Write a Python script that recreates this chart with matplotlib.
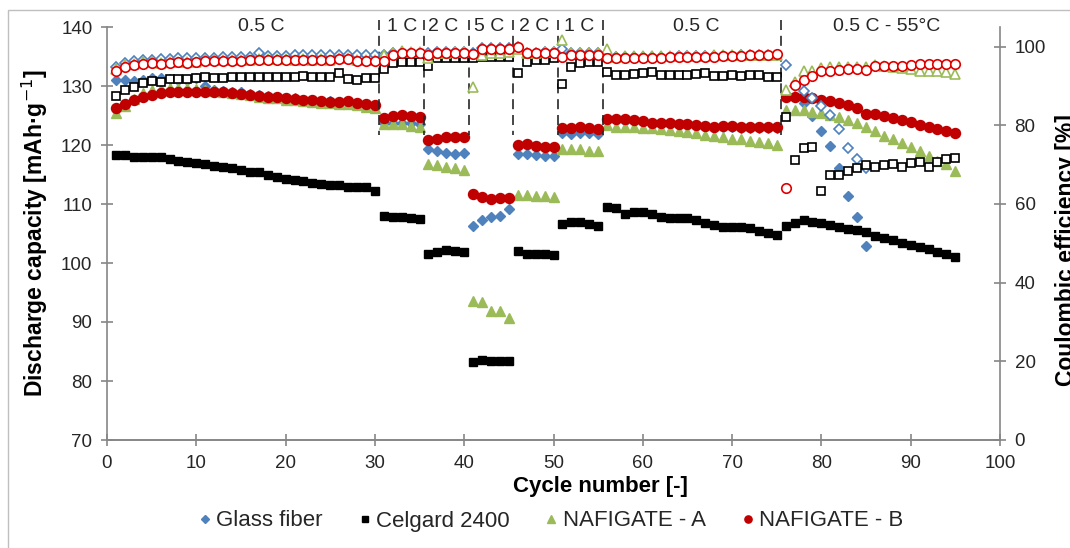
import numpy as np
import matplotlib
matplotlib.use("Agg")
import matplotlib.pyplot as plt
from matplotlib.lines import Line2D
from matplotlib.patches import Rectangle

plt.rcParams['font.family'] = ['Liberation Sans', 'DejaVu Sans']

nan = np.nan
cycles = list(range(1, 96))

# ---- Discharge capacity [mAh/g] (left axis) ----
glass_dc = [131.0, 131.0, 130.9, 131.0, 131.3, 131.4, 131.2, 131.1, 131.0, 131.3,
            130.0, 129.3, 129.2, 129.0, 128.9, 128.7, 128.5, 128.3, 128.2, 128.0,
            127.9, 127.7, 127.6, 127.5, 127.4, 127.3, 127.3, 127.2, 126.9, 126.7,
            123.8, 123.8, 123.8, 123.7, 123.6,
            119.4, 119.0, 118.7, 118.5, 118.6,
            106.3, 107.3, 107.85, 108.0, 109.1,
            118.4, 118.4, 118.3, 118.2, 118.1,
            122.0, 121.9, 122.0, 122.0, 121.9,
            124.2, 124.2, 124.15, 124.05, 123.95, 123.6, 123.6, 123.5, 123.4, 123.35,
            123.2, 123.05, 122.9, 123.05, 123.05, 122.9, 122.9, 122.8, 122.8, 122.8,
            128.6, 128.2, 127.1, 124.9, 122.4, 119.8, 116.05, 111.35, 107.75, 102.9,
            nan, nan, nan, nan, nan, nan, nan, nan, nan, nan]
celgard_dc = [118.3, 118.25, 118.0, 118.0, 118.0, 118.0, 117.6, 117.3, 117.1, 116.9,
              116.7, 116.5, 116.3, 116.05, 115.8, 115.5, 115.35, 114.95, 114.65, 114.3,
              114.1, 113.9, 113.6, 113.4, 113.3, 113.2, 112.9, 112.85, 112.8, 112.2,
              108.0, 107.8, 107.8, 107.6, 107.4,
              101.6, 101.9, 102.2, 102.0, 101.9,
              83.2, 83.6, 83.4, 83.4, 83.4,
              102.1, 101.6, 101.6, 101.5, 101.35,
              106.6, 107.0, 107.0, 106.55, 106.3,
              109.45, 109.3, 108.3, 108.6, 108.65, 108.3, 107.85, 107.6, 107.7, 107.7,
              107.35, 106.85, 106.45, 106.15, 106.1, 106.1, 105.9, 105.5, 105.1, 104.75,
              106.3, 106.8, 107.3, 107.0, 106.8, 106.4, 106.05, 105.8, 105.6, 105.2,
              104.6, 104.2, 103.9, 103.45, 103.05, 102.65, 102.3, 101.9, 101.5, 101.1]
nafA_dc = [125.4, 126.6, 127.8, 128.8, 129.3, 129.5, 129.6, 129.6, 129.6, 129.5,
           129.3, 129.2, 129.0, 128.8, 128.6, 128.4, 128.2, 128.0, 127.9, 127.7,
           127.55, 127.4, 127.3, 127.2, 127.1, 127.0, 126.9, 126.7, 126.5, 126.3,
           123.55, 123.55, 123.5, 123.2, 123.0,
           116.8, 116.6, 116.3, 116.05, 115.75,
           93.6, 93.45, 91.9, 91.9, 90.6,
           111.6, 111.6, 111.35, 111.4, 111.25,
           119.3, 119.3, 119.4, 118.9, 118.9,
           123.4, 123.1, 123.1, 123.0, 122.95, 122.8, 122.7, 122.55, 122.4, 122.15,
           122.0, 121.7, 121.5, 121.3, 121.1, 120.95, 120.7, 120.55, 120.3, 120.0,
           125.9, 126.0, 126.0, 125.65, 125.4, 125.1, 124.7, 124.25, 123.7, 123.0,
           122.4, 121.6, 121.0, 120.3, 119.6, 118.9, 118.2, 117.35, 116.8, 115.65]
nafB_dc = [126.2, 126.95, 127.7, 128.2, 128.5, 128.75, 128.9, 128.95, 128.95, 128.95,
           128.9, 129.05, 128.95, 128.75, 128.65, 128.5, 128.3, 128.2, 128.1, 127.95,
           127.8, 127.7, 127.6, 127.5, 127.35, 127.35, 127.5, 127.2, 126.95, 126.7,
           124.5, 125.0, 125.1, 125.0, 124.7,
           120.85, 121.1, 121.3, 121.3, 121.3,
           111.7, 111.25, 110.85, 111.0, 111.1,
           120.0, 120.1, 119.9, 119.7, 119.7,
           122.8, 122.95, 123.0, 122.8, 122.7,
           124.4, 124.4, 124.35, 124.25, 124.15, 123.8, 123.8, 123.7, 123.6, 123.55,
           123.4, 123.25, 123.1, 123.25, 123.25, 123.1, 123.1, 123.0, 123.0, 123.0,
           128.2, 128.2, 128.1, 127.9, 127.7, 127.45, 127.2, 126.7, 126.2, 125.2,
           125.2, 124.9, 124.6, 124.25, 123.85, 123.4, 123.0, 122.7, 122.4, 122.0]

# ---- Coulombic efficiency [%] (right axis) ----
glass_ce = [94.9, 95.8, 96.3, 96.6, 96.6, 96.8, 96.8, 97.0, 97.0, 97.0,
            97.2, 97.2, 97.3, 97.3, 97.5, 97.5, 98.3, 97.7, 97.7, 97.7,
            97.8, 97.8, 97.8, 97.9, 97.9, 97.9, 97.9, 97.9, 97.9, 97.9,
            98.0, 98.3, 98.5, 98.5, 98.5,
            98.3, 98.6, 98.6, 98.6, 98.6,
            98.5, 99.6, 99.6, 99.6, 99.6,
            100.0, 98.5, 98.5, 98.6, 98.6,
            99.3, 98.3, 98.3, 98.3, 98.3,
            97.5, 97.3, 97.4, 97.4, 97.5, 97.5, 97.5, 97.5, 97.6, 97.6,
            97.6, 97.6, 97.7, 97.7, 97.7, 97.8, 97.8, 97.9, 98.0, 98.0,
            95.3, 90.1, 88.7, 87.0, 84.9, 82.6, 79.0, 74.3, 71.4, 69.1,
            nan, nan, nan, nan, nan, nan, nan, nan, nan, nan]
celgard_ce = [87.4, 89.0, 89.8, 90.7, 91.3, 91.1, 91.8, 91.8, 91.8, 92.1,
              92.4, 92.1, 92.1, 92.2, 92.2, 92.4, 92.4, 92.4, 92.4, 92.4,
              92.4, 92.5, 92.4, 92.4, 92.4, 93.2, 91.7, 91.5, 92.0, 92.0,
              94.2, 95.8, 96.0, 96.0, 96.0,
              95.1, 97.0, 97.0, 97.0, 97.0,
              97.0, 97.5, 97.5, 97.5, 97.5,
              93.2, 96.2, 96.6, 96.6, 97.0,
              90.4, 94.9, 95.8, 96.2, 96.2,
              93.5, 92.8, 92.8, 93.1, 93.4, 93.5, 92.8, 92.8, 92.8, 92.8,
              93.1, 93.2, 92.5, 92.5, 92.8, 92.5, 92.8, 92.9, 92.4, 92.4,
              82.0, 71.2, 74.3, 74.6, 63.3, 67.4, 67.4, 68.4, 69.1, 69.8,
              69.5, 69.8, 70.1, 69.3, 70.5, 70.8, 69.5, 70.8, 71.4, 71.8]
nafA_ce = [94.2, 95.3, 95.6, 96.0, 96.0, 95.8, 96.0, 96.2, 96.0, 96.2,
           96.5, 96.5, 96.5, 96.5, 96.5, 96.7, 96.8, 96.8, 96.8, 96.8,
           96.7, 96.8, 96.7, 96.8, 96.7, 97.0, 97.0, 96.5, 96.6, 96.6,
           97.9, 98.5, 98.8, 98.6, 98.6,
           97.0, 98.5, 98.5, 98.6, 98.6,
           89.8, 97.9, 98.3, 98.5, 98.6,
           99.5, 98.5, 98.5, 98.6, 98.6,
           101.7, 98.3, 98.3, 98.3, 98.3,
           99.5, 97.5, 97.6, 97.6, 97.6, 97.6, 97.7, 97.7, 97.7, 97.7,
           97.7, 97.7, 97.8, 97.8, 97.8, 97.8, 97.9, 97.9, 98.0, 98.0,
           89.0, 91.0, 93.7, 93.9, 94.7, 94.9, 94.9, 94.9, 94.9, 94.9,
           95.3, 95.1, 94.9, 94.5, 94.2, 93.9, 93.9, 93.7, 93.5, 93.1]
nafB_ce = [93.7, 94.9, 95.3, 95.6, 95.8, 95.5, 95.8, 96.0, 95.8, 96.0,
           96.3, 96.3, 96.3, 96.3, 96.3, 96.5, 96.6, 96.6, 96.6, 96.6,
           96.5, 96.6, 96.5, 96.6, 96.5, 96.8, 96.8, 96.3, 96.3, 96.3,
           96.3, 97.9, 98.3, 98.3, 98.3,
           97.9, 98.5, 98.5, 98.5, 98.5,
           98.1, 99.4, 99.4, 99.4, 99.4,
           100.0, 98.5, 98.5, 98.5, 98.5,
           97.5, 97.9, 97.9, 97.9, 97.9,
           97.0, 97.0, 97.0, 97.1, 97.1, 97.2, 97.2, 97.3, 97.3, 97.4,
           97.4, 97.5, 97.5, 97.6, 97.6, 97.7, 97.8, 97.9, 98.0, 98.1,
           64.0, 90.3, 91.5, 92.5, 93.9, 93.9, 94.1, 94.2, 94.2, 94.1,
           95.1, 95.1, 95.1, 95.1, 95.3, 95.6, 95.6, 95.6, 95.6, 95.6]

series_names = ['Glass fiber', 'Celgard 2400', 'NAFIGATE - A', 'NAFIGATE - B']

# C-rate sections
boundaries = [30.5, 35.5, 40.5, 45.5, 50.5, 55.5, 75.5]
section_labels = ['0.5 C', '1 C', '2 C', '5 C', '2 C', '1 C', '0.5 C', '0.5 C - 55°C']
section_label_x = [17.3, 33.1, 37.6, 42.8, 47.8, 52.9, 66.0, 87.3]

x_ticks = list(range(0, 101, 10))
y_ticks = list(range(70, 141, 10))
y2_ticks = list(range(0, 101, 20))

# ---- styles ----
c_blue = '#4F81BD'
c_black = '#000000'
c_green = '#9BBB59'
c_red = '#C00000'
c_red_open = '#E00000'
axis_col = '#868686'
text_col = '#262626'

W, H = 1070, 548
fig = plt.figure(figsize=(W / 100, H / 100), dpi=100)
fig.patch.set_facecolor('white')
ax = fig.add_axes([107 / W, 1 - 440 / H, (1000 - 107) / W, (440 - 27) / H])
ax2 = ax.twinx()

ms_d, ms_s, ms_t, ms_o = 6.3, 6.2, 7.4, 7.2
mew = 1.2

ax.plot(cycles, glass_dc, ls='none', marker='D', ms=ms_d * 0.85, color=c_blue, mec=c_blue, zorder=3)
ax.plot(cycles, celgard_dc, ls='none', marker='s', ms=ms_s, color=c_black, zorder=3)
ax.plot(cycles, nafA_dc, ls='none', marker='^', ms=ms_t, color=c_green, mec=c_green, zorder=3)
ax.plot(cycles, nafB_dc, ls='none', marker='o', ms=ms_o, color=c_red, mec=c_red, zorder=3)

ax2.plot(cycles, glass_ce, ls='none', marker='D', ms=ms_d * 0.8, mfc='white', mec=c_blue, mew=mew)
ax2.plot(cycles, celgard_ce, ls='none', marker='s', ms=ms_s * 0.95, mfc='white', mec=c_black, mew=mew)
ax2.plot(cycles, nafA_ce, ls='none', marker='^', ms=ms_t * 0.95, mfc='white', mec=c_green, mew=mew)
ax2.plot(cycles, nafB_ce, ls='none', marker='o', ms=ms_o * 0.95, mfc='white', mec=c_red_open, mew=mew)

ax.set_xlim(0, 100)
ax.set_ylim(70, 140)
ax2.set_ylim(0, 105)
ax.set_xticks(x_ticks)
ax.set_yticks(y_ticks)
ax2.set_yticks(y2_ticks)

for a in (ax, ax2):
    for s in a.spines.values():
        s.set_color(axis_col)
        s.set_linewidth(1.2)
    a.spines['top'].set_visible(False)
    a.tick_params(direction='inout', length=9, width=1.2, color=axis_col,
                  labelsize=13.5, labelcolor=text_col, pad=6)
ax2.spines['left'].set_visible(False)
ax.spines['right'].set_visible(False)

ax.set_xlabel('Cycle number [-]', fontsize=16, fontweight='bold', color='black')
ax.xaxis.set_label_coords((600.5 - 107) / 893, -0.088)
ax.set_ylabel('Discharge capacity [mAh·g$^{-1}$]', fontsize=16.5, fontweight='bold',
              color='black')
ax.yaxis.set_label_coords(-0.064, 0.5)
ax2.set_ylabel('Coulombic efficiency [%]', fontsize=16.5, fontweight='bold',
               color='black')
ax2.yaxis.set_label_coords(1.0616, 0.46)

# dashed section separators
for b in boundaries:
    ax.plot([b, b], [141.2, 121.7], color='#262626', lw=1.2, ls=(0, (6, 3.5)),
            clip_on=False, zorder=4)
for lab, lx in zip(section_labels, section_label_x):
    ax.text(lx, 140.1, lab, ha='center', va='center', fontsize=14, color=text_col)

# legend (discharge series only)
handles = [
    Line2D([], [], ls='none', marker='D', ms=4.2, color=c_blue),
    Line2D([], [], ls='none', marker='s', ms=4.6, color=c_black),
    Line2D([], [], ls='none', marker='^', ms=5.8, color=c_green),
    Line2D([], [], ls='none', marker='o', ms=5.2, color=c_red),
]
fig.legend(handles, series_names, loc='center', bbox_to_anchor=(550.6 / W, 1 - 521 / H),
           ncol=4, frameon=False, fontsize=16, handlelength=0.6, handletextpad=0.2,
           columnspacing=1.6, labelcolor=text_col)

# figure border
fig.patches.append(Rectangle((8 / W, -0.05), 1.2, 1 - 10 / H + 0.05, transform=fig.transFigure,
                             fill=False, edgecolor='#BFBFBF', lw=1.0))

fig.savefig('out.png', dpi=100)
